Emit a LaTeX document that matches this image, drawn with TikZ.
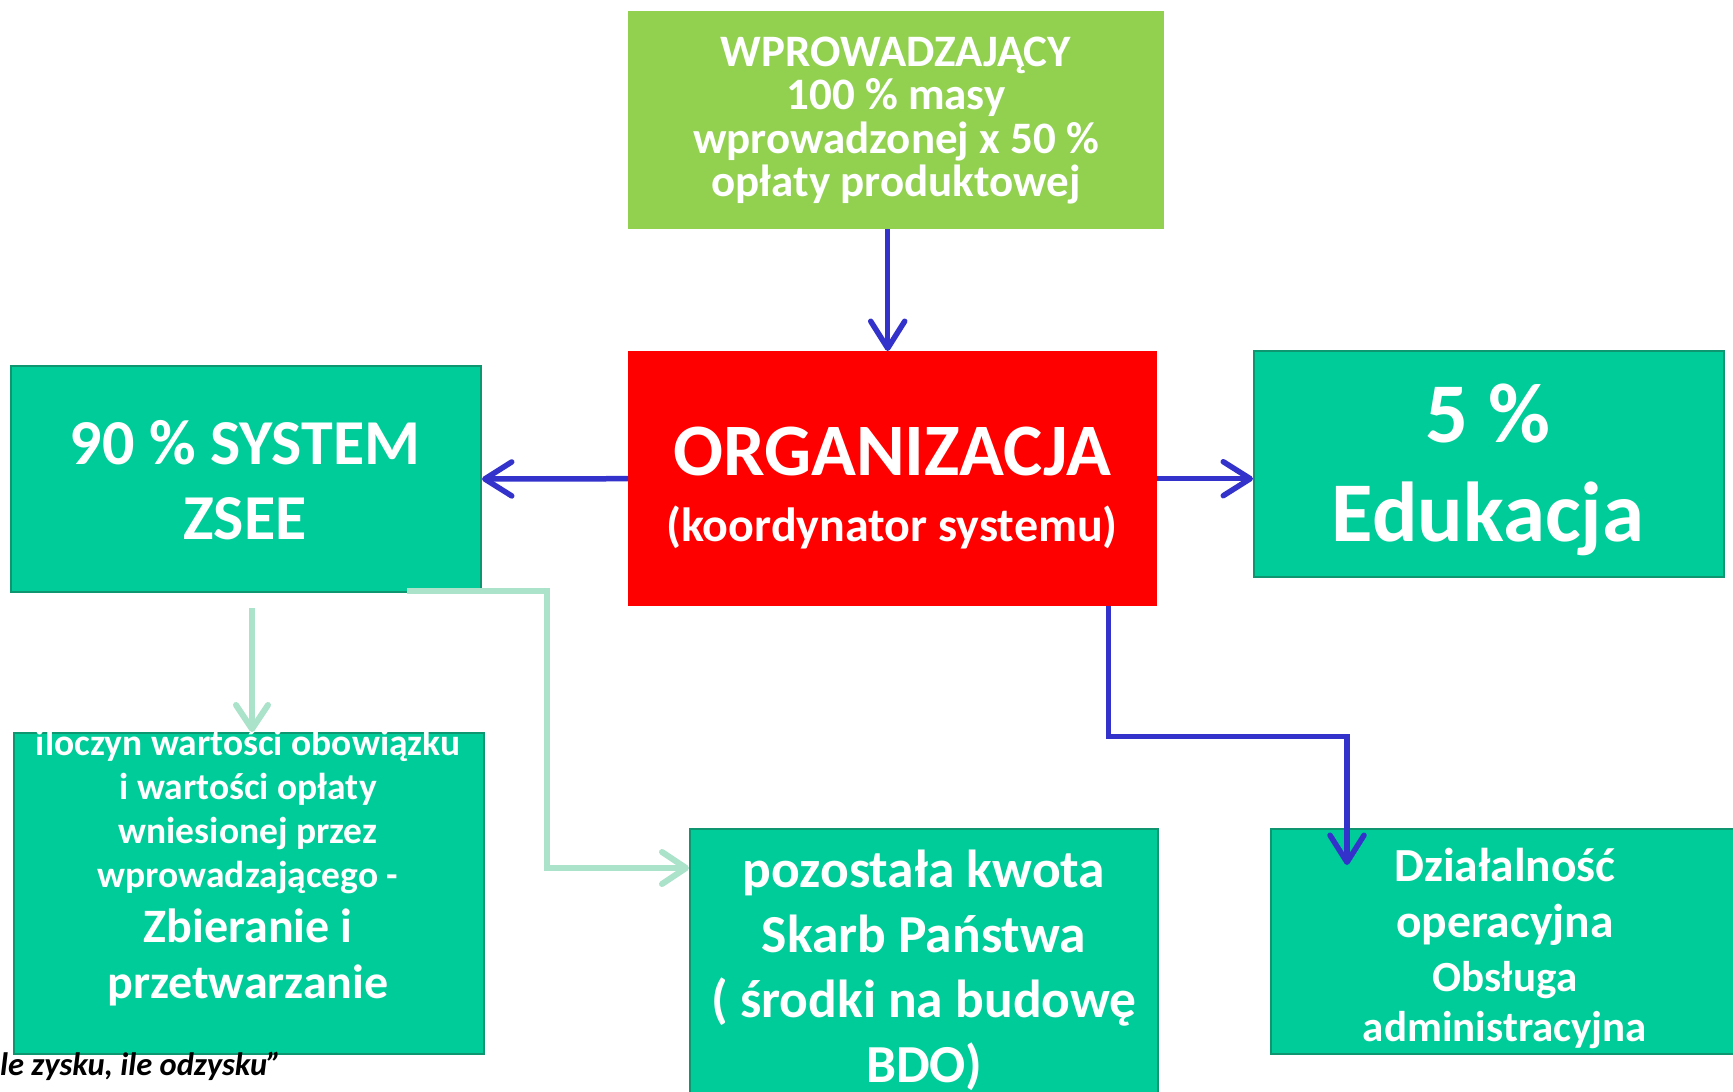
\documentclass[tikz,border=0pt]{standalone}
\usepackage{fontspec}
\setmainfont{Carlito}
\usetikzlibrary{positioning, arrows.meta}
\definecolor{introcolor}{RGB}{146, 208, 80}
\definecolor{orgcolor}{RGB}{255, 0, 0}
\definecolor{tealcolor}{RGB}{0, 204, 153}
\definecolor{tealedge}{RGB}{14, 150, 112}
\definecolor{flowcolor}{RGB}{51, 51, 204}
\definecolor{palecolor}{RGB}{170, 226, 202}

\begin{document}
\begin{tikzpicture}[
    x=1pt, y=-1pt,
    block/.style={rectangle, inner sep=0pt, anchor=north west},
    tealbox/.style={block, fill=tealcolor, draw=tealedge, line width=2pt},
    txt/.style={text=white, align=center, inner sep=0pt, anchor=base},
    flow/.style={-{Straight Barb[length=27pt, width=34pt, round]}, draw=flowcolor, line width=5.5pt},
    pale/.style={-{Straight Barb[length=24pt, width=32pt, round]}, draw=palecolor, line width=6pt},
]
\useasboundingbox (0,0) rectangle (1733,1092);

% ============ bloki ============
\node[block, fill=introcolor, minimum width=536pt, minimum height=218pt] (intro) at (628,11) {};
\node[block, fill=orgcolor, minimum width=529pt, minimum height=255pt] (org) at (628,351) {};
\node[tealbox, minimum width=470pt, minimum height=226pt] (zsee) at (10,365) {};
\node[tealbox, minimum width=470pt, minimum height=226pt] (edu) at (1253,350) {};
\node[tealbox, minimum width=470pt, minimum height=321pt] (collect) at (13,732) {};
\node[tealbox, minimum width=468pt, minimum height=300pt] (treasury) at (689,828) {};
\node[tealbox, minimum width=470pt, minimum height=225pt] (ops) at (1270,828) {};

% ============ teksty (anchor = ostatnia linia) ============
\node[txt, font={\fontsize{45}{43.5}\selectfont\bfseries}] (intro_txt) at (896,196.5)
    {WPROWADZAJĄCY\\100 \% masy\\wprowadzonej x 50 \%\\opłaty produktowej};
\node[txt, font={\fontsize{74}{80}\selectfont\bfseries}] (org_title) at (892,475) {ORGANIZACJA};
\node[txt, font={\fontsize{48}{52}\selectfont\bfseries}] (org_sub) at (892,541) {(koordynator systemu)};
\node[txt, font={\fontsize{64}{75}\selectfont\bfseries}] (zsee_txt) at (245,539) {90 \% SYSTEM\\ZSEE};
\node[txt, font={\fontsize{85}{99}\selectfont\bfseries}] (edu_txt) at (1488,541) {5 \%\\Edukacja};
\node[txt, font={\fontsize{37.5}{44}\selectfont\bfseries}] (collect_txt) at (248,887)
    {iloczyn wartości obowiązku\\i wartości opłaty\\wniesionej przez\\wprowadzającego -};
\node[txt, font={\fontsize{48}{56}\selectfont\bfseries}] (collect_sub) at (248,998) {Zbieranie i\\przetwarzanie};
\node[txt, font={\fontsize{53.5}{65}\selectfont\bfseries}] (treasury_txt) at (924,1082)
    {pozostała kwota\\Skarb Państwa\\( środki na budowę\\BDO)};
\node[txt, font={\fontsize{47.5}{56}\selectfont\bfseries}] (ops_txt) at (1505,937) {Działalność\\operacyjna};
\node[txt, font={\fontsize{43}{50}\selectfont\bfseries}] (ops_sub) at (1505,1041) {Obsługa\\administracyjna};
\node[inner sep=0pt, anchor=base west, font={\fontsize{32.5}{36}\selectfont\bfseries\itshape}] (motto) at (0,1075)
    {le zysku, ile odzysku”};

% ============ strzałki ============
\draw[flow] ([xshift=-5pt]org.north |- intro.south) -- ([xshift=-5pt]org.north);
\draw[flow] (org.west) -- (zsee.east);
\draw[flow] (org.east) -- (org.east -| edu.west);
\draw[flow] ([xshift=-49pt]org.south east) -- ++(0,130) -| ([xshift=77pt, yshift=-37pt]ops.north west);

\coordinate (split) at (407,591);
\draw[pale] ([xshift=6pt, yshift=-15pt]zsee.south) -- ([xshift=3pt]collect.north);
\draw[pale] (split) -- ++(140,0) |- ([yshift=-40pt]treasury.north west);

\end{tikzpicture}
\end{document}
